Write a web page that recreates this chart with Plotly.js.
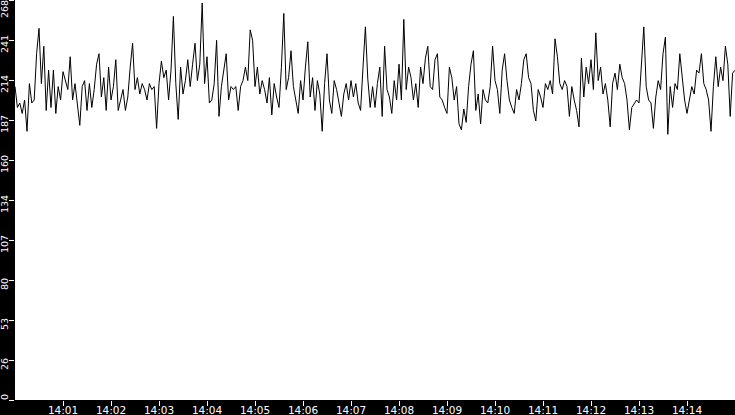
<!DOCTYPE html>
<html>
<head>
<meta charset="utf-8">
<script src="https://cdn.plot.ly/plotly-3.0.1.min.js"></script>
<style>
  html, body { margin: 0; padding: 0; background: #000; }
  #chart { width: 735px; height: 415px; }
</style>
</head>
<body>
<div id="chart"></div>
<script>
// samples every 3 s from 14:00:00 to 14:15:00
const startTime = '2024-01-01 14:00:00';
const stepSeconds = 3;
const values = [
  210, 196, 199, 192, 201, 180, 212, 199, 201, 232, 249, 212, 237, 194, 221, 196, 221, 192, 210, 201,
  220, 214, 208, 230, 201, 212, 199, 184, 210, 214, 194, 212, 196, 208, 225, 232, 203, 216, 194, 223,
  201, 210, 228, 194, 201, 208, 194, 203, 223, 239, 208, 216, 205, 212, 208, 201, 212, 208, 210, 182,
  212, 227, 216, 221, 201, 221, 257, 212, 188, 223, 205, 214, 228, 210, 225, 239, 214, 225, 266, 212,
  230, 199, 201, 212, 241, 190, 210, 221, 232, 201, 210, 208, 210, 194, 210, 214, 223, 214, 248, 241,
  210, 223, 205, 214, 208, 199, 216, 191, 212, 203, 196, 223, 259, 208, 216, 234, 210, 201, 192, 214,
  201, 223, 240, 203, 216, 194, 214, 205, 180, 212, 232, 201, 192, 214, 208, 199, 190, 205, 212, 201,
  214, 203, 212, 199, 194, 223, 250, 215, 196, 210, 196, 212, 223, 190, 237, 208, 203, 192, 214, 201,
  225, 201, 255, 208, 223, 216, 201, 212, 196, 223, 212, 229, 237, 210, 208, 228, 232, 203, 201, 196,
  192, 223, 216, 201, 210, 185, 181, 195, 186, 210, 225, 234, 194, 205, 185, 208, 201, 199, 210, 237,
  214, 208, 192, 221, 232, 214, 201, 196, 192, 208, 201, 212, 228, 232, 216, 212, 194, 187, 208, 203,
  196, 212, 208, 214, 205, 242, 230, 212, 208, 214, 210, 190, 210, 201, 194, 183, 229, 203, 223, 212,
  228, 208, 246, 214, 223, 205, 212, 201, 183, 212, 219, 208, 225, 216, 212, 201, 181, 196, 199, 201,
  199, 228, 250, 210, 201, 199, 182, 203, 214, 208, 232, 243, 178, 210, 196, 212, 208, 232, 214, 201,
  192, 201, 210, 205, 221, 219, 232, 212, 208, 201, 180, 210, 230, 210, 223, 214, 237, 225, 190, 219,
  221
];
const xTickLabels = ['14:01', '14:02', '14:03', '14:04', '14:05', '14:06', '14:07',
  '14:08', '14:09', '14:10', '14:11', '14:12', '14:13', '14:14'];
const yTickValues = [0, 26.8, 53.6, 80.4, 107.2, 134, 160.8, 187.6, 214.4, 241.2, 268];
const yTickLabels = ['0', '26', '53', '80', '107', '134', '160', '187', '214', '241', '268'];

// timestamps for each sample
const t0 = new Date(startTime.replace(' ', 'T') + 'Z').getTime();
const fmt = ms => new Date(ms).toISOString().replace('T', ' ').slice(0, 19);
const times = values.map((_, i) => fmt(t0 + i * stepSeconds * 1000));
const xTickValues = xTickLabels.map(s => '2024-01-01 ' + s + ':00');

const trace = {
  x: times, y: values, type: 'scatter', mode: 'lines',
  line: { color: '#000', width: 1 }, hoverinfo: 'skip'
};

// rotated y labels, sitting a little below their tick and kept inside the strip
const yLabelShift = (v, i) => i === 0 ? 3 : (i === yTickValues.length - 1 ? -9 : -4);
const yLabels = yTickValues.map((v, i) => ({
  xref: 'paper', yref: 'y', x: 0, y: v,
  xanchor: 'center', yanchor: 'middle', xshift: -11, yshift: yLabelShift(v, i),
  text: yTickLabels[i], textangle: -90, showarrow: false, borderpad: 0,
  font: { family: 'DejaVu Sans', size: 9.5, color: '#fff' }
}));

const layout = {
  width: 735, height: 415,
  margin: { l: 15, r: 0, t: 0, b: 15 },
  paper_bgcolor: '#000', plot_bgcolor: '#fff',
  showlegend: false,
  font: { family: 'DejaVu Sans', size: 10, color: '#fff' },
  xaxis: {
    type: 'date',
    range: [times[0], times[times.length - 1]],
    tickvals: xTickValues, ticktext: xTickLabels,
    ticks: 'outside', ticklen: 5, tickcolor: '#fff', tickwidth: 1,
    ticklabelstandoff: -5,
    showgrid: false, zeroline: false, showline: false,
    tickfont: { size: 10.5, color: '#fff' }
  },
  yaxis: {
    range: [0, 268],
    tickvals: yTickValues, showticklabels: false,
    ticks: 'outside', ticklen: 5, tickcolor: '#fff', tickwidth: 1,
    showgrid: false, zeroline: false, showline: false
  },
  annotations: yLabels
};

Plotly.newPlot('chart', [trace], layout, { staticPlot: true, displayModeBar: false });
</script>
</body>
</html>
